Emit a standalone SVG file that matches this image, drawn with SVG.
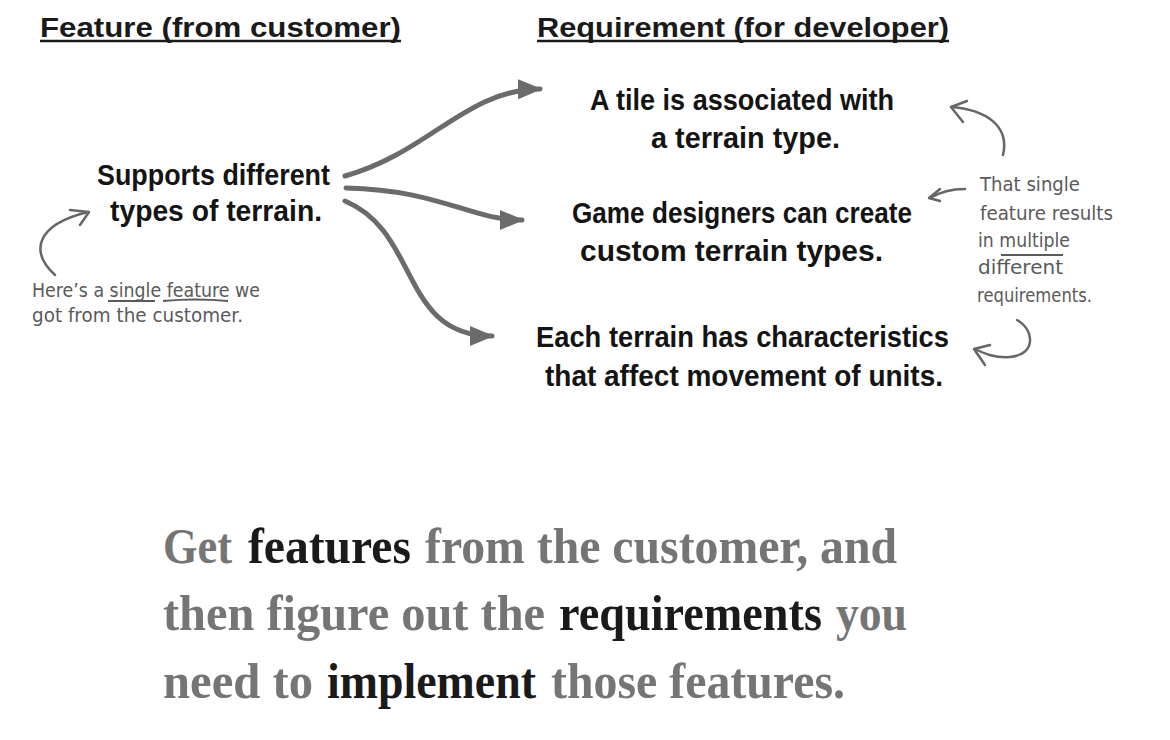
<svg xmlns="http://www.w3.org/2000/svg" width="1170" height="740" viewBox="0 0 1170 740">
<style>
.hd{font-family:"Liberation Sans",Arial,sans-serif;font-weight:bold;font-size:27px;fill:#1a1a1a}
.nd{font-family:"Liberation Sans",Arial,sans-serif;font-weight:bold;font-size:29px;fill:#141414}
.an{font-family:"DejaVu Sans","Liberation Sans",sans-serif;font-size:19px;fill:#5a5a5a}
.big{font-family:"Liberation Serif","Times New Roman",serif;font-weight:bold;font-size:50px;fill:#757575}
.k{fill:#1a1a1a}
.con{fill:none;stroke:#6b6b6b;stroke-width:5;stroke-linecap:round}
.note{fill:none;stroke:#666;stroke-width:2.5;stroke-linecap:round;stroke-linejoin:round}
.ul{stroke:#1a1a1a;stroke-width:2.5}
.ul2{stroke:#5a5a5a;stroke-width:2;fill:none}
</style>
<defs>
<marker id="ah" markerUnits="userSpaceOnUse" markerWidth="24" markerHeight="20" refX="22" refY="10" orient="auto">
<path d="M0,0 L24,10 L0,20 Z" fill="#6b6b6b"/>
</marker>
</defs>
<rect width="1170" height="740" fill="#fff"/>
<g id="headers">
<text class="hd" x="40" y="37" textLength="361" lengthAdjust="spacingAndGlyphs">Feature (from customer)</text>
<line class="ul" x1="40" y1="41" x2="401" y2="41"/>
<text class="hd" x="537" y="37" textLength="412" lengthAdjust="spacingAndGlyphs">Requirement (for developer)</text>
<line class="ul" x1="537" y1="41" x2="949" y2="41"/>
</g>
<g id="feature">
<text class="nd" x="97" y="185" textLength="233" lengthAdjust="spacingAndGlyphs">Supports different</text>
<text class="nd" x="110" y="221" textLength="212" lengthAdjust="spacingAndGlyphs">types of terrain.</text>
</g>
<g id="req1">
<text class="nd" x="590" y="110" textLength="304" lengthAdjust="spacingAndGlyphs">A tile is associated with</text>
<text class="nd" x="651" y="148" textLength="189" lengthAdjust="spacingAndGlyphs">a terrain type.</text>
</g>
<g id="req2">
<text class="nd" x="572" y="223" textLength="340" lengthAdjust="spacingAndGlyphs">Game designers can create</text>
<text class="nd" x="580" y="261" textLength="303" lengthAdjust="spacingAndGlyphs">custom terrain types.</text>
</g>
<g id="req3">
<text class="nd" x="536" y="347" textLength="413" lengthAdjust="spacingAndGlyphs">Each terrain has characteristics</text>
<text class="nd" x="545" y="386" textLength="398" lengthAdjust="spacingAndGlyphs">that affect movement of units.</text>
</g>
<g id="connectors">
<path class="con" d="M345,176 C430,152 465,90 540,89" marker-end="url(#ah)"/>
<path class="con" d="M346,188 C440,190 470,220 522,220" marker-end="url(#ah)"/>
<path class="con" d="M345,201 C420,232 400,336 492,336" marker-end="url(#ah)"/>
</g>
<g id="note-left">
<path class="note" d="M55,275 C30,252 35,225 88,212"/>
<path class="note" d="M70,210 L89,212 L80,225"/>
<text class="an" x="32" y="297" textLength="228" lengthAdjust="spacingAndGlyphs">Here’s a single feature we</text>
<text class="an" x="32" y="322" textLength="211" lengthAdjust="spacingAndGlyphs">got from the customer.</text>
<line class="ul2" x1="108" y1="301" x2="155" y2="301"/>
<path class="ul2" d="M163,301 Q195,298 228,301"/>
</g>
<g id="note-right">
<path class="note" d="M1003,155 C1010,125 985,110 952,107"/>
<path class="note" d="M967,101 L951,107 L963,122"/>
<path class="note" d="M965,189 C950,189 940,192 930,198"/>
<path class="note" d="M940,189 L929,198 L940,201"/>
<path class="note" d="M1017,320 C1035,330 1036,355 1010,357 C995,358 985,354 975,349"/>
<path class="note" d="M990,345 L974,349 L985,365"/>
<text class="an" x="980" y="191" textLength="100" lengthAdjust="spacingAndGlyphs">That single</text>
<text class="an" x="980" y="220" textLength="133" lengthAdjust="spacingAndGlyphs">feature results</text>
<text class="an" x="978" y="247" textLength="92" lengthAdjust="spacingAndGlyphs">in multiple</text>
<line class="ul2" x1="1001" y1="255" x2="1063" y2="255"/>
<text class="an" x="978" y="274" textLength="85" lengthAdjust="spacingAndGlyphs">different</text>
<text class="an" x="977" y="302" textLength="115" lengthAdjust="spacingAndGlyphs">requirements.</text>
</g>
<g id="summary">
<text class="big" x="163" y="563" textLength="69" lengthAdjust="spacingAndGlyphs">Get</text>
<text class="big k" x="248" y="563" textLength="163" lengthAdjust="spacingAndGlyphs">features</text>
<text class="big" x="425" y="563" textLength="472" lengthAdjust="spacingAndGlyphs">from the customer, and</text>
<text class="big" x="163" y="630" textLength="382" lengthAdjust="spacingAndGlyphs">then figure out the</text>
<text class="big k" x="559" y="630" textLength="263" lengthAdjust="spacingAndGlyphs">requirements</text>
<text class="big" x="836" y="630" textLength="71" lengthAdjust="spacingAndGlyphs">you</text>
<text class="big" x="163" y="698" textLength="150" lengthAdjust="spacingAndGlyphs">need to</text>
<text class="big k" x="327" y="698" textLength="209" lengthAdjust="spacingAndGlyphs">implement</text>
<text class="big" x="551" y="698" textLength="294" lengthAdjust="spacingAndGlyphs">those features.</text>
</g>
</svg>
